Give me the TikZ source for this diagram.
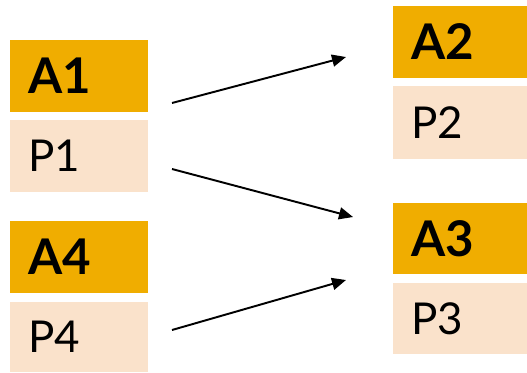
\documentclass[tikz,border=0pt]{standalone}
\usepackage{fontspec}
\setmainfont{Lato}
\usetikzlibrary{arrows.meta}
\definecolor{gold}{HTML}{F0AD00}
\definecolor{peach}{HTML}{FAE2CB}
\begin{document}
\begin{tikzpicture}[x=0.02cm, y=-0.02cm]
	\tikzstyle{Head} = [rectangle, minimum width=2.76cm, minimum height=1.44cm, inner xsep=0.36cm, text width=2.04cm, align=left, fill=gold, font=\fontsize{28}{32}\selectfont\bfseries]
	\tikzstyle{Body} = [rectangle, minimum width=2.76cm, minimum height=1.44cm, inner xsep=0.36cm, text width=2.04cm, align=left, fill=peach, font=\fontsize{25}{29}\selectfont]
	\tikzstyle{HeadR} = [Head, minimum width=2.68cm, text width=1.96cm]
	\tikzstyle{BodyR} = [Body, minimum width=2.68cm, text width=1.96cm]
	\tikzstyle{arrow} = [line width=1.1pt, -{Triangle[length=2.8mm, width=2.4mm]}]

	\useasboundingbox (0,0) rectangle (527,372);

	\node (a1) [Head] at (79,76) {A1};
	\node (p1) [Body] at (79,156) {P1};
	\node (a4) [Head] at (79,257) {A4};
	\node (p4) [Body, minimum height=1.4cm] at (79,337) {P4};

	\node (a2) [HeadR] at (460,42) {A2};
	\node (p2) [BodyR, minimum height=1.46cm] at (460,122.5) {P2};
	\node (a3) [HeadR, minimum height=1.42cm] at (460,238.5) {A3};
	\node (p3) [BodyR, minimum height=1.42cm] at (460,318.5) {P3};

	\coordinate (from1) at (172,103);
	\coordinate (from2) at (172,169);
	\coordinate (from4) at (172,330);
	\coordinate (to2) at (346,57);
	\coordinate (to3a) at (353,217);
	\coordinate (to3b) at (346,280);

	\draw [arrow] (from1) -- (to2);
	\draw [arrow] (from2) -- (to3a);
	\draw [arrow] (from4) -- (to3b);
\end{tikzpicture}
\end{document}
